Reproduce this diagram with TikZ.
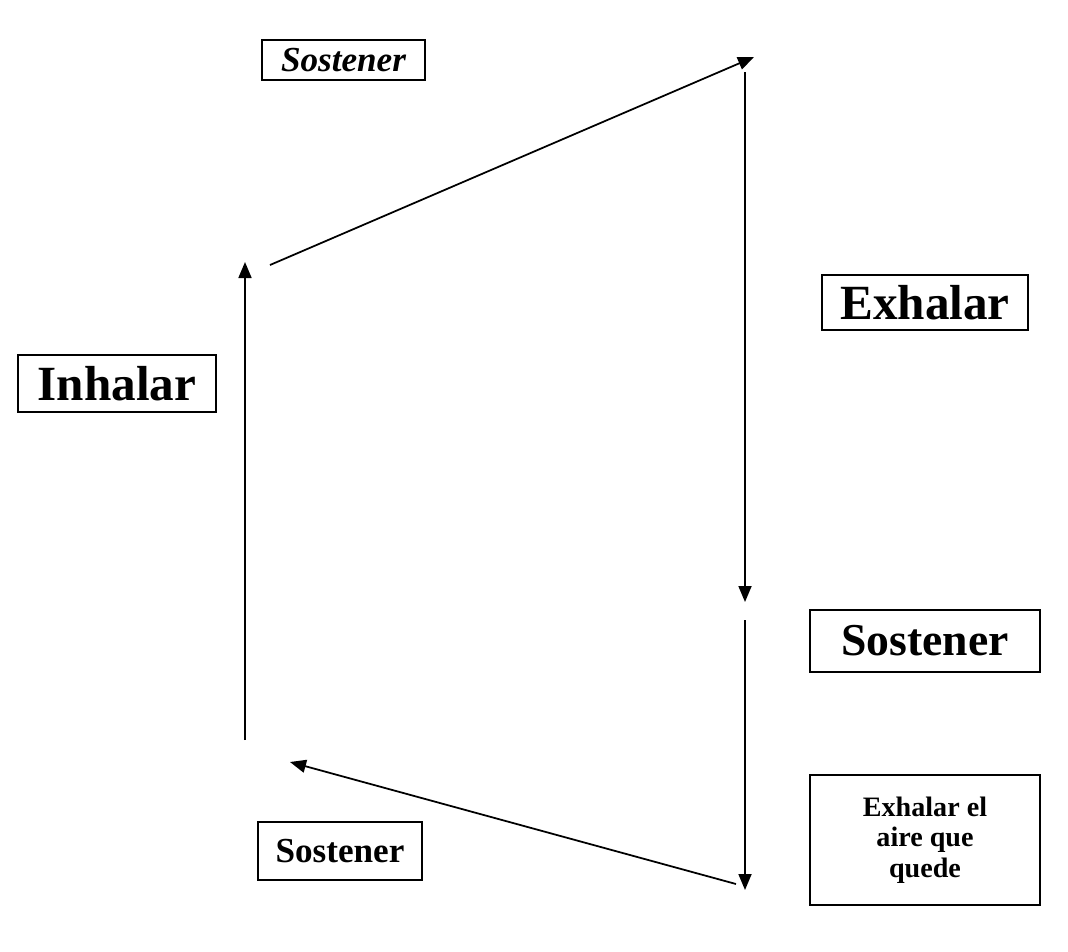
\documentclass[tikz,border=0pt]{standalone}
\usepackage{fontspec}
\setmainfont{Liberation Serif}
\usetikzlibrary{arrows.meta}
\tikzstyle{caja} = [draw=black,line width=0.8pt,inner sep=0pt]
\tikzstyle{flecha} = [line width=1pt,-{Triangle[length=0.32cm,width=0.26cm]}]

\begin{document}
\begin{tikzpicture}[x=0.02cm,y=-0.02cm]
\useasboundingbox (0,0) rectangle (1068,951);
% cajas
\node[caja,minimum width=3.26cm,minimum height=0.8cm,font=\fontsize{20}{22}\selectfont\bfseries\itshape] (sosArriba) at (343.5,60) {Sostener};
\node[caja,minimum width=4.12cm,minimum height=1.1cm,font=\fontsize{28}{30}\selectfont\bfseries] (exhalar) at (925,302.5) {Exhalar};
\node[caja,minimum width=3.96cm,minimum height=1.14cm,font=\fontsize{28}{30}\selectfont\bfseries] (inhalar) at (117,383.5) {Inhalar};
\node[caja,minimum width=4.6cm,minimum height=1.24cm,font=\fontsize{26}{28}\selectfont\bfseries] (sosDerecha) at (925,641) {Sostener};
\node[caja,minimum width=4.6cm,minimum height=2.6cm,align=center,font=\fontsize{16}{17.5}\selectfont\bfseries] (exhalarResto) at (925,840) {Exhalar el\\ aire que\\ quede};
\node[caja,minimum width=3.28cm,minimum height=1.16cm,font=\fontsize{20}{22}\selectfont\bfseries] (sosAbajo) at (340,851) {Sostener};
% puntas de las flechas
\coordinate (inhBajo) at (245,740);
\coordinate (inhAlto) at (245,262);
\coordinate (subeIni) at (270,265);
\coordinate (subeFin) at (754,57);
\coordinate (bajaIni) at (745,72);
\coordinate (bajaFin) at (745,602);
\coordinate (restoIni) at (745,620);
\coordinate (restoFin) at (745,890);
\coordinate (vuelveIni) at (736,884);
\coordinate (vuelveFin) at (290,762);
% flechas
\draw[flecha] (subeIni) -- (subeFin);
\draw[flecha] (bajaIni) -- (bajaFin);
\draw[flecha] (restoIni) -- (restoFin);
\draw[flecha] (vuelveIni) -- (vuelveFin);
\draw[flecha] (inhBajo) -- (inhAlto);
\end{tikzpicture}
\end{document}
